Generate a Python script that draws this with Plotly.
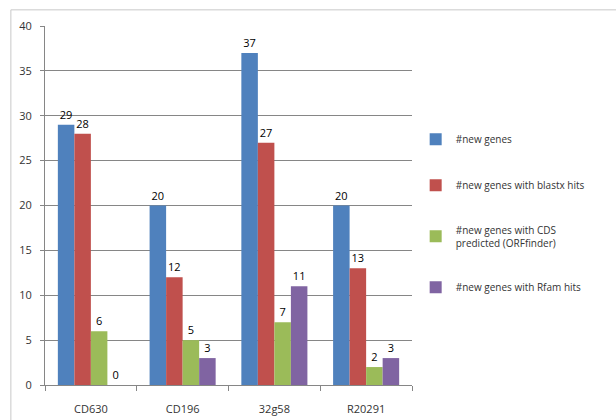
import plotly.graph_objects as go

categories = ["CD630", "CD196", "32g58", "R20291"]
series_names = [
    "#new genes",
    "#new genes with blastx hits",
    "#new genes with CDS<br>predicted (ORFfinder)",
    "#new genes with Rfam hits",
]
new_genes = [29, 20, 37, 20]
blastx_hits = [28, 12, 27, 13]
cds_predicted = [6, 5, 7, 2]
rfam_hits = [0, 3, 11, 3]
colors = ["#4F81BD", "#C0504D", "#9BBB59", "#8064A2"]

series_values = [new_genes, blastx_hits, cds_predicted, rfam_hits]

fig = go.Figure()
for i, (name, vals, col) in enumerate(zip(series_names, series_values, colors)):
    fig.add_trace(go.Bar(
        x=categories, y=vals, name=name,
        marker=dict(color=col, line=dict(width=0)),
        text=[str(v) for v in vals], textposition="outside",
        textfont=dict(size=11, color="#000000", family="Open Sans"),
        cliponaxis=False,
        legendgroup=f"g{i}",
    ))

fig.update_layout(
    width=616, height=420,
    margin=dict(l=45, r=204, t=26, b=35, autoexpand=False),
    paper_bgcolor="white", plot_bgcolor="white",
    barmode="group", bargap=0.28, bargroupgap=0,
    font=dict(family="Open Sans", size=11, color="#333333"),
    showlegend=True,
    legend=dict(
        x=1.01, y=0.725, xanchor="left", yanchor="top",
        font=dict(size=10, color="#333333"),
        traceorder="grouped", tracegroupgap=27,
        bgcolor="rgba(0,0,0,0)",
    ),
    xaxis=dict(
        showline=True, linecolor="#868686", linewidth=1,
        ticks="outside", tickson="boundaries", ticklen=5, tickcolor="#868686",
        ticklabelstandoff=14, automargin=False,
        tickfont=dict(size=11, color="#333333"),
    ),
    yaxis=dict(
        range=[0, 40], dtick=5, showgrid=True, gridcolor="#868686", gridwidth=1,
        showline=True, linecolor="#868686", linewidth=1,
        ticks="outside", ticklen=4, tickcolor="#868686",
        ticklabelstandoff=6, automargin=False,
        zeroline=False,
        tickfont=dict(size=11, color="#333333"),
    ),
    shapes=[
        dict(type="line", xref="paper", yref="paper", x0=-0.093, x1=1.6, y0=1.045, y1=1.045,
             line=dict(color="#C8C8C8", width=1)),
        dict(type="line", xref="paper", yref="paper", x0=-0.093, x1=-0.093, y0=1.045, y1=-0.2,
             line=dict(color="#C8C8C8", width=1)),
    ],
)

fig.write_html("out.html")
